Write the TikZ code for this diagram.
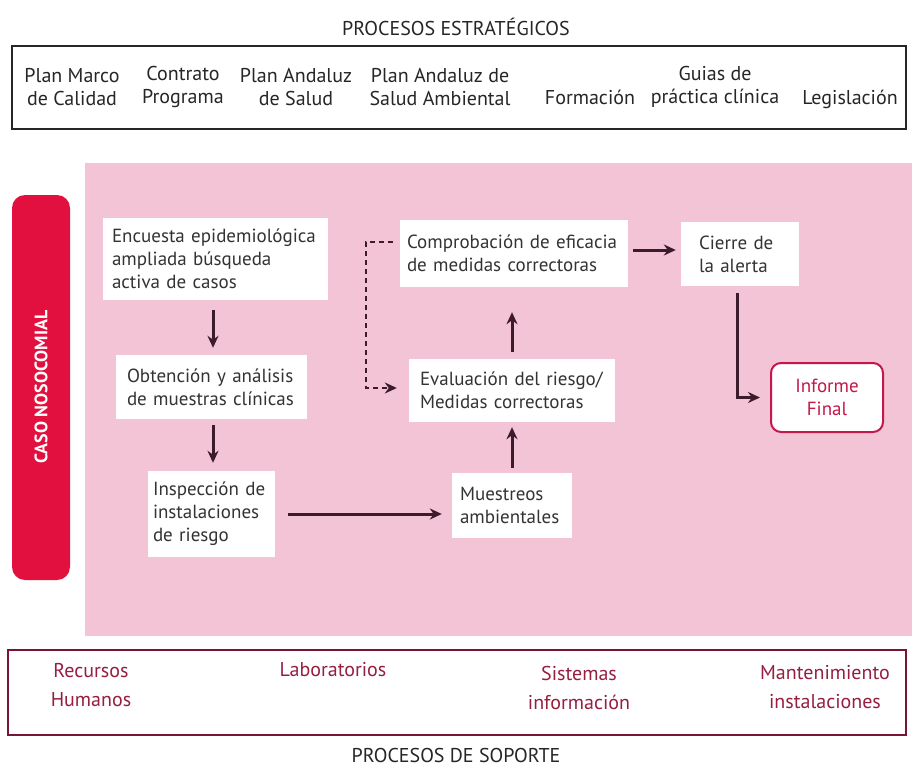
\documentclass[tikz,border=0pt]{standalone}
\usepackage{fontspec}
\setmainfont{PT Sans}
\usetikzlibrary{arrows.meta,calc}
\definecolor{pinkbg}{RGB}{242,196,214}
\definecolor{redbar}{RGB}{226,16,62}
\definecolor{arrcol}{RGB}{60,28,44}
\definecolor{suptext}{RGB}{150,30,64}
\definecolor{supline}{RGB}{120,20,55}
\definecolor{infcol}{RGB}{196,23,74}
\tikzset{
  wbox/.style={fill=white, draw=none, align=left, inner sep=0pt, font=\fontsize{19}{23}\selectfont, text=black!80},
  lbl/.style={align=center, font=\fontsize{20}{23}\selectfont, text=black!85},
  slbl/.style={align=center, font=\fontsize{20}{29}\selectfont, text=suptext},
  arr/.style={draw=arrcol, line width=3pt, -{Stealth[length=12pt,width=11pt]}},
  darr/.style={draw=arrcol, line width=2.2pt, dash pattern=on 5pt off 4pt, -{Stealth[length=12pt,width=11pt]}},
}
\begin{document}
\begin{tikzpicture}[x=1pt,y=-1pt]
\useasboundingbox (0,0) rectangle (912,770);
\fill[white] (0,0) rectangle (912,770);
% top
\node[lbl] (ttl) at (456,27) {PROCESOS ESTRATÉGICOS};
\draw[line width=2pt, draw=black!85] (12,46) rectangle (906,129);
\node[lbl] (t1) at (72,87) {Plan Marco\\de Calidad};
\node[lbl] (t2) at (183,87) {Contrato\\Programa};
\node[lbl] (t3) at (296,87) {Plan Andaluz\\de Salud};
\node[lbl] (t4) at (440,87) {Plan Andaluz de\\Salud Ambiental};
\node[lbl, anchor=base] (t5) at (590,105) {Formación};
\node[lbl] (t6) at (715,87) {Guias de\\práctica clínica};
\node[lbl, anchor=base] (t7) at (850,105) {Legislación};
% pink area
\fill[pinkbg] (85,163) rectangle (912,636);
% red bar
\fill[redbar, rounded corners=13pt] (12,195) rectangle (70,580);
\node[rotate=90, text=white, font=\bfseries\fontsize{18}{20}\selectfont] (caso) at (41,387) {CASO NOSOCOMIAL};
% boxes
\node[wbox, minimum width=225pt, minimum height=82pt, text width=207pt] (enc) at (215.5,259) {Encuesta epidemiológica\\ampliada búsqueda\\activa de casos};
\node[wbox, minimum width=191pt, minimum height=64pt, text width=169pt] (obt) at (211.5,387) {Obtención y análisis\\de muestras clínicas};
\node[wbox, minimum width=127pt, minimum height=86pt, text width=117pt] (ins) at (211.5,514) {Inspección de\\instalaciones\\de riesgo};
\node[wbox, minimum width=120pt, minimum height=65pt, text width=104pt] (mue) at (512,505.5) {Muestreos\\ambientales};
\node[wbox, minimum width=206pt, minimum height=63pt, text width=184pt] (eva) at (512,390.5) {Evaluación del riesgo/\\Medidas correctoras};
\node[wbox, minimum width=228pt, minimum height=67pt, text width=214pt] (com) at (514,253.5) {Comprobación de eficacia\\de medidas correctoras};
\node[wbox, minimum width=118pt, minimum height=64pt, text width=82pt] (cie) at (740,254) {Cierre de\\la alerta};
\node[fill=white, draw=infcol, line width=2pt, rounded corners=10pt, minimum width=112pt, minimum height=69pt, align=center, text=infcol, font=\fontsize{19}{23}\selectfont] (inf) at (827,397.5) {Informe\\Final};
% arrows
\draw[arr, shorten <=10pt, shorten >=7pt] (enc.south -| 213,0) -- (obt.north -| 213,0);
\draw[arr, shorten <=6pt, shorten >=8pt] (obt.south -| 213,0) -- (ins.north -| 213,0);
\draw[arr, shorten <=13pt, shorten >=10pt] (ins.east) -- (ins.east -| mue.west);
\draw[arr, shorten <=5pt, shorten >=5pt] (mue.north) -- (mue.north |- eva.south);
\draw[arr, shorten <=7pt, shorten >=25pt] (eva.north) -- (eva.north |- com.south);
\draw[arr, shorten <=5pt, shorten >=5pt] ([yshift=3.5pt]com.east) -- ([yshift=3.5pt]com.east -| cie.west);
\draw[arr, shorten <=7pt, shorten >=10pt] ([xshift=-3pt]cie.south) |- (inf.west);
\draw[darr, shorten <=7pt, shorten >=12pt] ([yshift=11.5pt]com.west) -| ([xshift=-43pt,yshift=2.5pt]eva.west) -- ([yshift=2.5pt]eva.west);
% bottom
\draw[line width=2pt, draw=supline] (8,650) rectangle (906,735);
\node[slbl] (b1) at (91,685) {Recursos\\Humanos};
\node[slbl, anchor=base] (b2) at (333,676) {Laboratorios};
\node[slbl] (b3) at (579,687.5) {Sistemas\\información};
\node[slbl] (b4) at (825,687.5) {Mantenimiento\\instalaciones};
\node[lbl] (bt) at (456,755) {PROCESOS DE SOPORTE};
\end{tikzpicture}
\end{document}
